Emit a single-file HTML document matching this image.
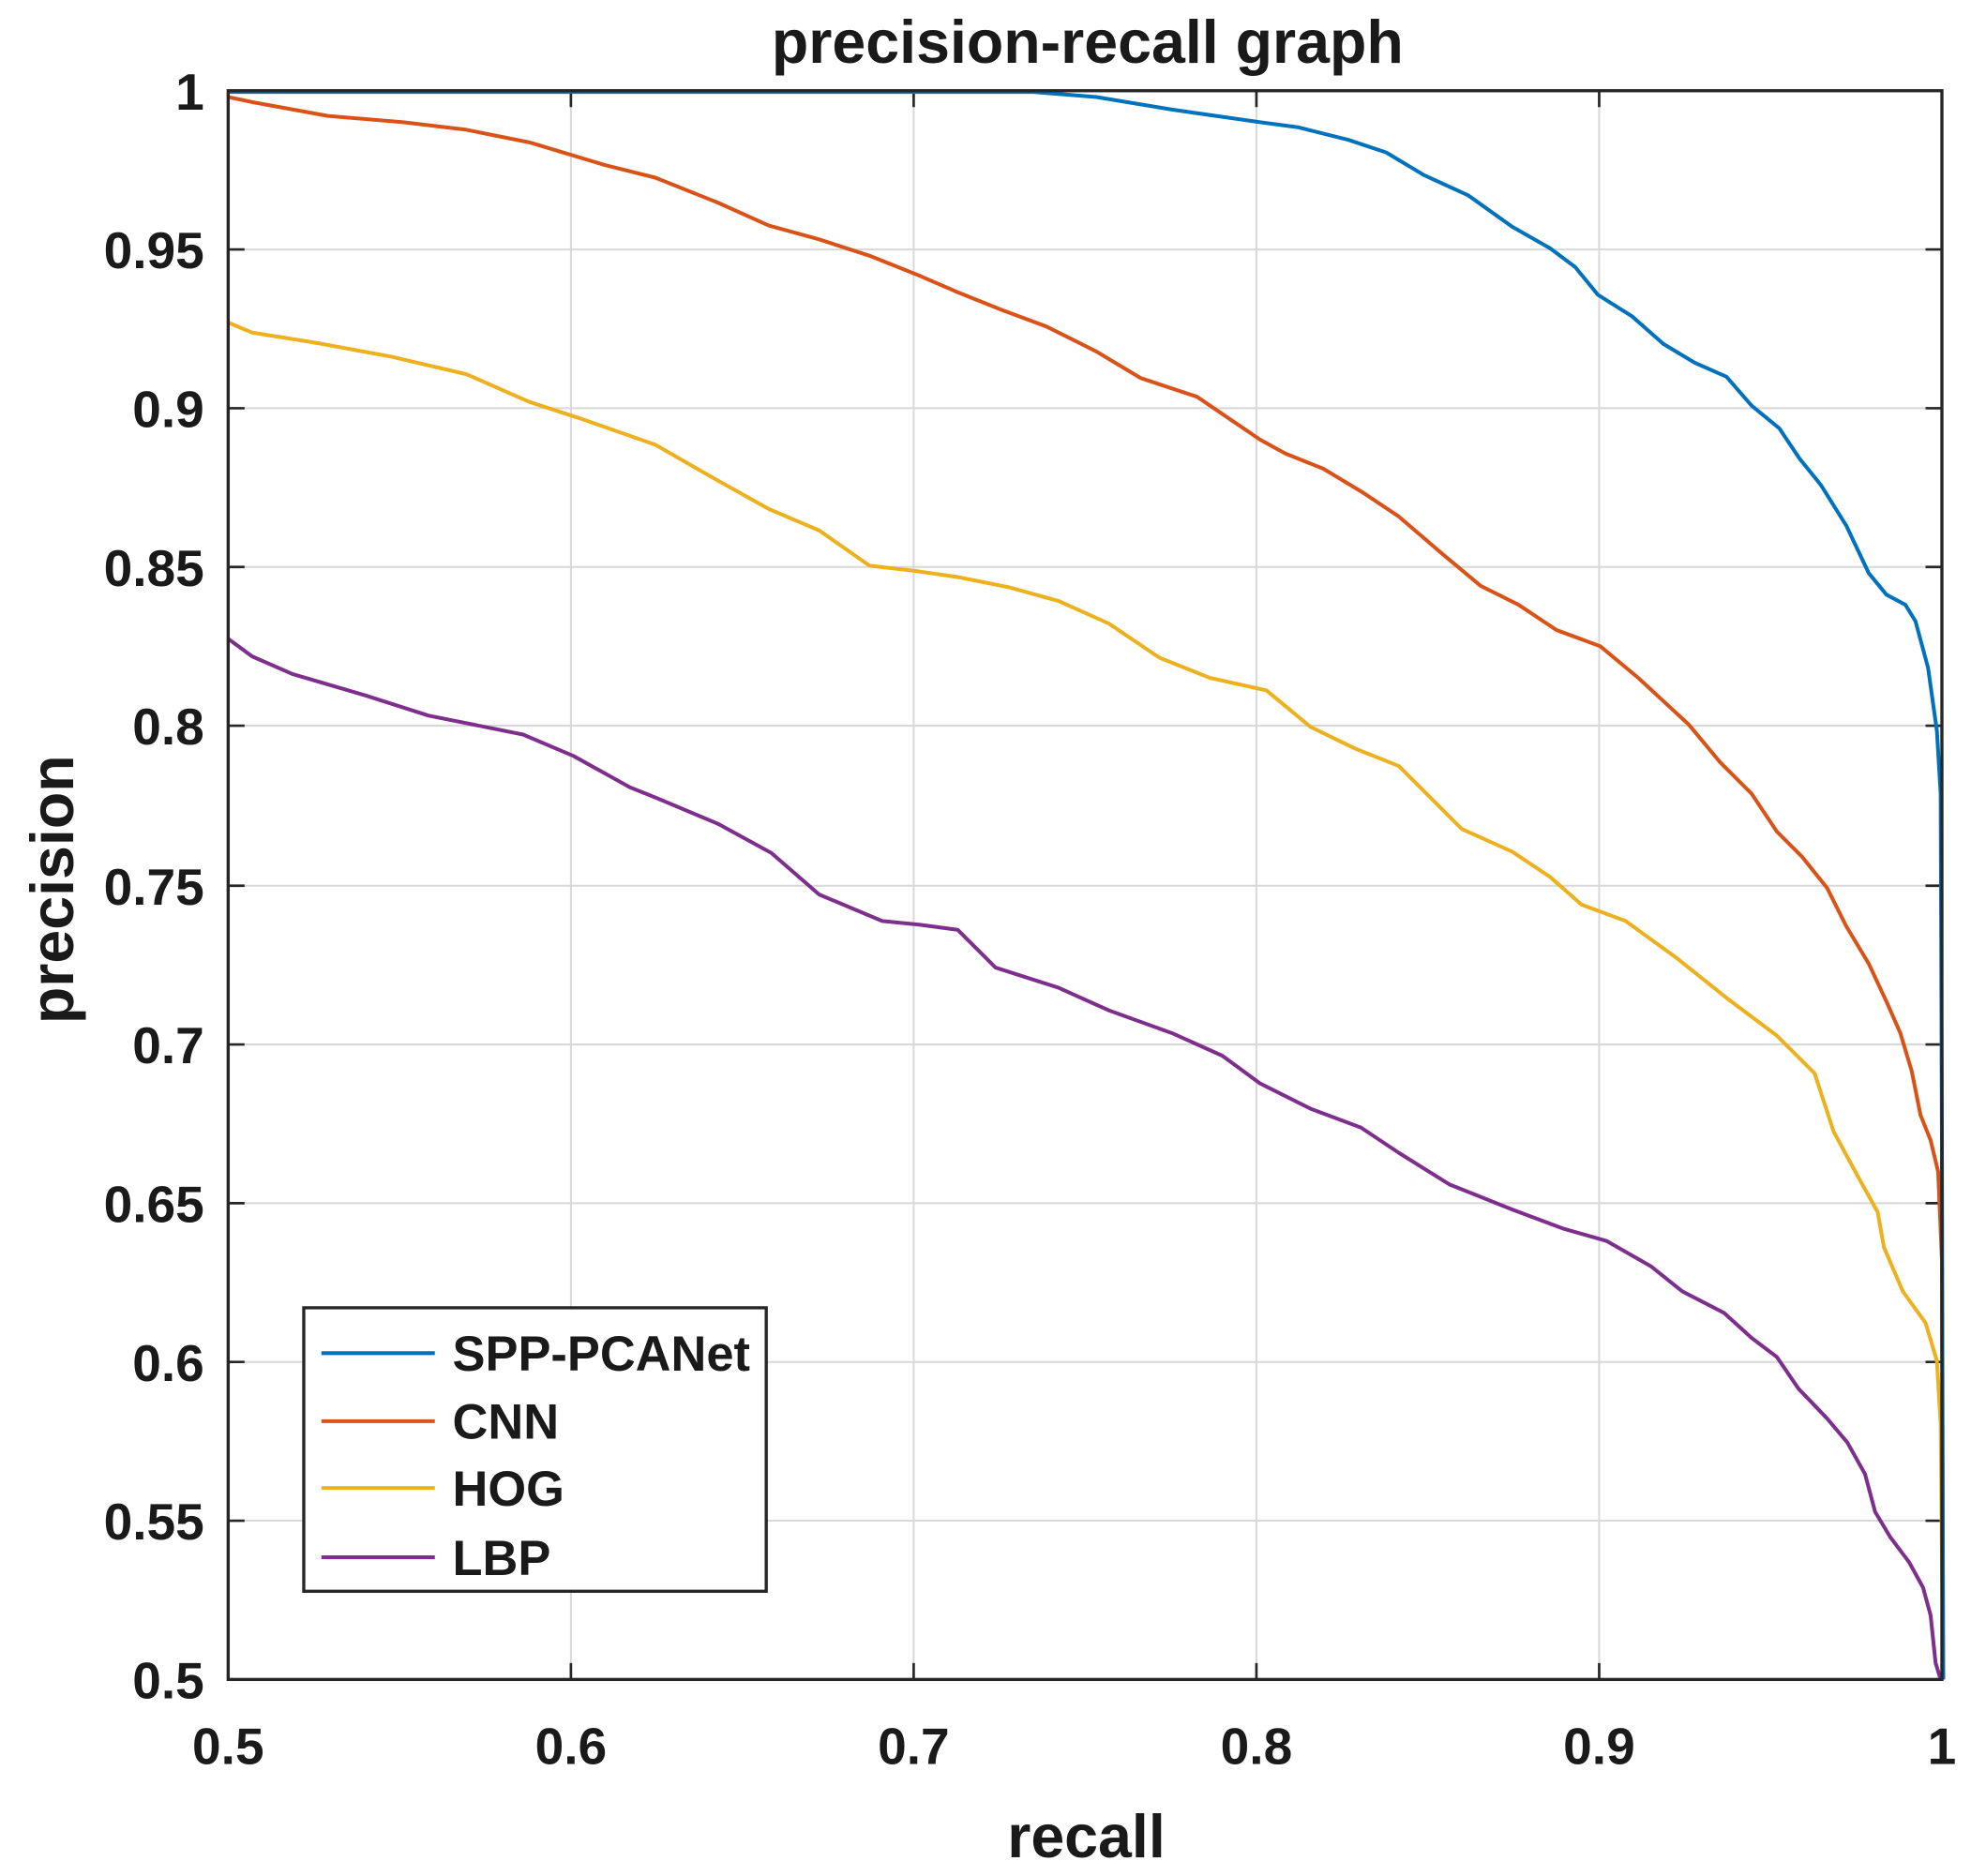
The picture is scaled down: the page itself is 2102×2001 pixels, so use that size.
<!DOCTYPE html>
<html><head><meta charset="utf-8"><style>
html,body{margin:0;padding:0;background:#fff;}
svg{display:block;}
text{font-family:"Liberation Sans",Arial,sans-serif;font-weight:bold;fill:#1a1a1a;}
</style></head><body>
<svg width="2102" height="2001" viewBox="0 0 1564 1489" xmlns="http://www.w3.org/2000/svg">
<rect width="1564" height="1489" fill="#fff"/>
<g stroke="#d8d8d8" stroke-width="1.5">
<line x1="453" y1="72" x2="453" y2="1333"/><line x1="725" y1="72" x2="725" y2="1333"/>
<line x1="997" y1="72" x2="997" y2="1333"/><line x1="1269" y1="72" x2="1269" y2="1333"/>
<line x1="181" y1="198" x2="1541" y2="198"/><line x1="181" y1="324" x2="1541" y2="324"/>
<line x1="181" y1="450" x2="1541" y2="450"/><line x1="181" y1="576" x2="1541" y2="576"/>
<line x1="181" y1="703" x2="1541" y2="703"/><line x1="181" y1="829" x2="1541" y2="829"/>
<line x1="181" y1="955" x2="1541" y2="955"/><line x1="181" y1="1081" x2="1541" y2="1081"/>
<line x1="181" y1="1207" x2="1541" y2="1207"/>
</g>
<g stroke="#262626" stroke-width="2">
<path d="M453 1333v-13M725 1333v-13M997 1333v-13M1269 1333v-13M453 72v13M725 72v13M997 72v13M1269 72v13"/>
<path d="M181 198h13M181 324h13M181 450h13M181 576h13M181 703h13M181 829h13M181 955h13M181 1081h13M181 1207h13"/>
<path d="M1541 198h-13M1541 324h-13M1541 450h-13M1541 576h-13M1541 703h-13M1541 829h-13M1541 955h-13M1541 1081h-13M1541 1207h-13"/>
</g>
<g fill="none" stroke-width="3" stroke-linejoin="round">
<polyline stroke="#7e2f8e" points="181,507 200,521 232,535 290,552 340,568 415,583 455,600 500,625 520,633 570,654 612,677 650,710 700,731 730,734 760,738 790,768 840,784 880,802 930,820 970,838 1000,860 1040,880 1080,895 1110,915 1150,940 1200,960 1240,975 1275,985 1310,1005 1335,1025 1368,1042 1390,1062 1410,1077 1427,1102 1450,1126 1466,1145 1480,1170 1488,1200 1500,1220 1515,1240 1526,1260 1532,1282 1536,1320 1540,1333"/>
<polyline stroke="#edb120" points="181,256 200,264 250,272 310,283 370,297 420,319 460,332 520,353 560,376 610,404 650,421 690,449 725,453 760,458 800,466 840,477 880,495 920,522 960,538 1005,548 1040,577 1075,594 1110,608 1160,658 1200,676 1230,696 1255,718 1290,731 1330,760 1370,792 1410,822 1440,852 1455,898 1475,935 1490,962 1495,990 1510,1025 1528,1050 1537,1080 1540,1130 1542,1333"/>
<polyline stroke="#d95319" points="181,77 200,81 260,92 320,97 370,103 420,113 450,122 480,131 520,141 570,161 610,179 650,190 690,203 730,219 760,232 795,246 830,259 870,279 905,300 950,315 975,332 1000,349 1020,360 1050,372 1080,390 1110,410 1145,440 1175,465 1205,480 1235,500 1270,513 1300,538 1340,575 1365,605 1390,630 1410,660 1430,680 1450,705 1465,735 1483,765 1497,795 1508,820 1517,850 1524,885 1532,905 1538,930 1541,1000 1542,1333"/>
<polyline stroke="#0072bd" points="181,73 820,73 870,77 930,87 1000,97 1030,101 1070,111 1100,121 1130,139 1165,155 1200,180 1230,197 1250,212 1268,234 1295,251 1320,273 1345,288 1370,299 1390,322 1412,340 1428,364 1445,385 1465,417 1483,455 1497,472 1512,480 1520,493 1530,530 1537,580 1540,630 1541,900 1542,1333"/>
</g>
<rect x="181" y="72" width="1360" height="1261" fill="none" stroke="#262626" stroke-width="2.5"/>
<rect x="241" y="1038" width="367" height="225" fill="#fff" stroke="#262626" stroke-width="2.5"/>
<g stroke-width="3">
<line x1="255" y1="1074" x2="345" y2="1074" stroke="#0072bd"/>
<line x1="255" y1="1128" x2="345" y2="1128" stroke="#d95319"/>
<line x1="255" y1="1181" x2="345" y2="1181" stroke="#edb120"/>
<line x1="255" y1="1236" x2="345" y2="1236" stroke="#7e2f8e"/>
</g>
<g font-size="39">
<text x="359" y="1088">SPP-PCANet</text>
<text x="359" y="1142">CNN</text>
<text x="359" y="1195">HOG</text>
<text x="359" y="1250">LBP</text>
</g>
<g font-size="41" text-anchor="end">
<text x="162" y="87">1</text><text x="162" y="213">0.95</text><text x="162" y="339">0.9</text>
<text x="162" y="465">0.85</text><text x="162" y="591">0.8</text><text x="162" y="718">0.75</text>
<text x="162" y="844">0.7</text><text x="162" y="970">0.65</text><text x="162" y="1096">0.6</text>
<text x="162" y="1222">0.55</text><text x="162" y="1348">0.5</text>
</g>
<g font-size="41" text-anchor="middle">
<text x="181" y="1400">0.5</text><text x="453" y="1400">0.6</text><text x="725" y="1400">0.7</text>
<text x="997" y="1400">0.8</text><text x="1269" y="1400">0.9</text><text x="1541" y="1400">1</text>
</g>
<text x="862" y="1474" font-size="48" text-anchor="middle">recall</text>
<text x="0" y="0" font-size="48" text-anchor="middle" transform="translate(58,706) rotate(-90)">precision</text>
<text x="863" y="50" font-size="48" text-anchor="middle" fill="#000">precision-recall graph</text>
</svg>
</body></html>
